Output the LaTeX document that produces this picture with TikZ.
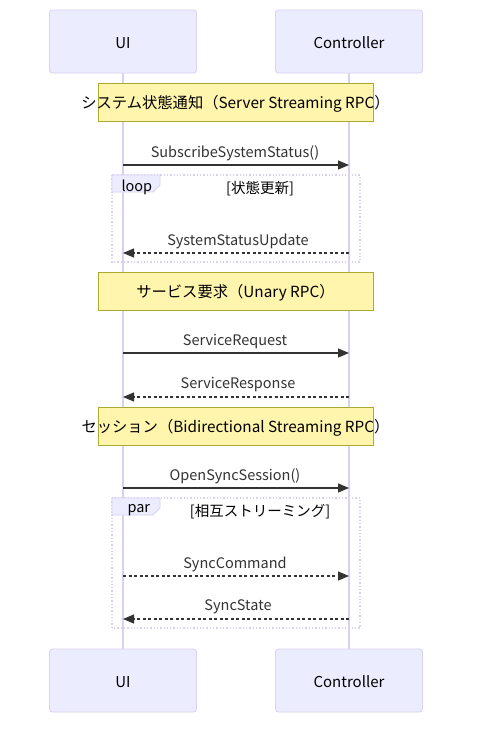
\documentclass[tikz,border=0pt]{standalone}
\usepackage{fontspec}
\setmainfont{Noto Sans CJK JP}
\usetikzlibrary{arrows.meta}
\definecolor{actfill}{HTML}{ECECFF}
\definecolor{actdraw}{HTML}{D9D0F2}
\definecolor{notefill}{HTML}{FFF5AD}
\definecolor{notedraw}{HTML}{AAAA33}
\definecolor{txt}{HTML}{333333}
\newcommand{\lowered}[1]{\raisebox{-1.5pt}[\height][\depth]{#1}}
\tikzset{
  actor/.style={draw=actdraw, fill=actfill, rounded corners=3pt, minimum width=147pt, minimum height=63pt, line width=0.8pt, font=\fontsize{15}{18}\selectfont, text=black},
  shiftdown/.style={yshift=-1.5pt},
  notebox/.style={draw=notedraw, fill=notefill, minimum width=275pt, minimum height=38pt, line width=0.8pt},
  notetxt/.style={font=\fontsize{15.3}{18}\selectfont, text=black, shiftdown},
  msg/.style={font=\fontsize{14.5}{17}\selectfont, text=txt, shiftdown},
  lifeline/.style={draw=actdraw, line width=1.2pt},
  solidarr/.style={draw=txt, line width=1.2pt, -{Triangle[length=11pt,width=9pt]}},
  dasharr/.style={draw=txt, line width=1.2pt, dash pattern=on 3pt off 2.5pt, -{Triangle[length=11pt,width=9pt]}},
  frame/.style={draw=actdraw, line width=1.3pt, dotted},
  flabel/.style={font=\fontsize{14.5}{17}\selectfont, text=black, shiftdown},
}
\begin{document}
\begin{tikzpicture}[x=1pt,y=-1pt]
\useasboundingbox[fill=white] (0,0) rectangle (480,736);
% actors
\node[actor] (uiT) at (123,41.5) {\lowered{UI}};
\node[actor] (ctT) at (349,41.5) {\lowered{Controller}};
\node[actor] (uiB) at (123,680.5) {\lowered{UI}};
\node[actor] (ctB) at (349,680.5) {\lowered{Controller}};
% lifelines
\draw[lifeline] (uiT.south) -- (uiB.north);
\draw[lifeline] (ctT.south) -- (ctB.north);
% note 1
\node[notebox] (n1) at (235.5,102) {};
\node[notetxt] (n1t) at (n1.center) {システム状態通知（Server Streaming RPC）};
% message 1
\coordinate (a1) at (123,165); \coordinate (b1) at (349,165);
\draw[solidarr] (a1) -- (b1);
\node[msg] (l1) at (235,152) {SubscribeSystemStatus()};
% loop frame
\draw[frame] (112,175) rectangle (360,262);
\draw[draw=actdraw, fill=actfill, line width=0.8pt] (112,175) -- (160,175) -- (160,185) -- (153,192) -- (112,192) -- cycle;
\node[flabel, anchor=west] (loopl) at (118,185.5) {loop};
\node[flabel] (loopc) at (260,187) {[状態更新]};
% message 2
\coordinate (a2) at (349,253); \coordinate (b2) at (123,253);
\draw[dasharr] (a2) -- (b2);
\node[msg] (l2) at (238,239.5) {SystemStatusUpdate};
% note 2
\node[notebox] (n2) at (235.5,291) {};
\node[notetxt] (n2t) at (n2.center) {サービス要求（Unary RPC）};
% message 3
\coordinate (a3) at (123,353); \coordinate (b3) at (349,353);
\draw[solidarr] (a3) -- (b3);
\node[msg] (l3) at (235,340) {ServiceRequest};
% message 4
\coordinate (a4) at (349,397); \coordinate (b4) at (123,397);
\draw[dasharr] (a4) -- (b4);
\node[msg] (l4) at (238,383.5) {ServiceResponse};
% note 3
\node[notebox] (n3) at (235.5,426) {};
\node[notetxt] (n3t) at (n3.center) {セッション（Bidirectional Streaming RPC）};
% message 5
\coordinate (a5) at (123,488); \coordinate (b5) at (349,488);
\draw[solidarr] (a5) -- (b5);
\node[msg] (l5) at (235,474.5) {OpenSyncSession()};
% par frame
\draw[frame] (112,498) rectangle (360,628);
\draw[draw=actdraw, fill=actfill, line width=0.8pt] (112,498) -- (160,498) -- (160,508) -- (153,515) -- (112,515) -- cycle;
\node[flabel, anchor=west] (parl) at (124,508.5) {par};
\node[flabel] (parc) at (260,510) {[相互ストリーミング]};
% message 6
\coordinate (a6) at (123,576); \coordinate (b6) at (349,576);
\draw[dasharr] (a6) -- (b6);
\node[msg] (l6) at (235,562.5) {SyncCommand};
% message 7
\coordinate (a7) at (349,619); \coordinate (b7) at (123,619);
\draw[dasharr] (a7) -- (b7);
\node[msg] (l7) at (238,605.5) {SyncState};
\end{tikzpicture}
\end{document}
